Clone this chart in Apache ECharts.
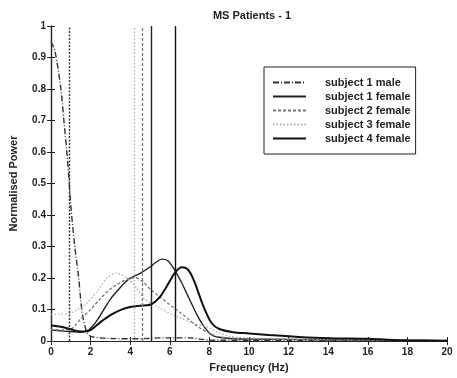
<!DOCTYPE html>
<html><head><meta charset="utf-8">
<script src="https://cdn.jsdelivr.net/npm/echarts@6/dist/echarts.min.js"></script>
<style>html,body{margin:0;padding:0;background:#fff}#c{width:457px;height:378px}</style>
</head><body><div id="c"></div>
<script>
const xTicks = [0,2,4,6,8,10,12,14,16,18,20];
const s1mFreq  = [0,0.2,0.5,0.65,0.8,0.9,1.0,1.2,1.4,1.5,1.6,1.8,2.0,2.5,3,4,5,5.5,6,7,7.5,8,10,12,14,16,18,20];
const s1mPower = [0.95,0.92,0.8,0.7,0.6,0.52,0.43,0.3,0.2,0.13,0.08,0.03,0.015,0.01,0.008,0.007,0.008,0.01,0.01,0.01,0.006,0.003,0.002,0.002,0.001,0.001,0.001,0];
const s1fFreq  = [0,0.5,1,1.5,1.9,2.3,3,3.5,3.9,4.5,5,5.3,5.6,5.9,6.2,6.6,6.9,7.4,7.8,8.2,9,10,12,14,16,18,20];
const s1fPower = [0.035,0.032,0.03,0.028,0.035,0.063,0.133,0.17,0.195,0.215,0.235,0.25,0.26,0.255,0.23,0.185,0.145,0.08,0.04,0.016,0.008,0.006,0.005,0.004,0.003,0.002,0.001];
const s2fFreq  = [0,0.5,1,1.5,2,2.5,3,3.5,4,4.3,4.7,5,5.5,6,6.5,7,7.5,8,8.4,9,10,12,14,16,18,20];
const s2fPower = [0.035,0.035,0.038,0.07,0.1,0.135,0.165,0.185,0.2,0.2,0.185,0.165,0.14,0.115,0.092,0.066,0.042,0.025,0.015,0.01,0.007,0.005,0.004,0.003,0.002,0.001];
const s3fFreq  = [0,0.5,0.9,1.2,1.7,2.3,2.8,3.3,3.7,4.2,4.7,5.4,6.2,7.2,7.9,8.4,9,10,12,14,16,18,20];
const s3fPower = [0.085,0.085,0.087,0.095,0.113,0.155,0.198,0.215,0.205,0.178,0.135,0.108,0.082,0.055,0.044,0.028,0.015,0.01,0.007,0.005,0.004,0.003,0.002];
const s4fFreq  = [0,0.5,1,1.5,2,2.5,3,3.5,4,4.5,5,5.5,6,6.3,6.6,6.9,7.2,7.7,8.1,8.5,9.2,10,11,12.5,14,16,17,18,20];
const s4fPower = [0.049,0.045,0.037,0.03,0.035,0.06,0.082,0.098,0.108,0.112,0.115,0.14,0.19,0.22,0.234,0.228,0.195,0.11,0.058,0.038,0.028,0.024,0.019,0.013,0.009,0.007,0.004,0.002,0.001];
const seriesNames = ['subject 1 male','subject 1 female','subject 2 female','subject 3 female','subject 4 female'];
const markFreq = [0.9, 5.07, 4.6, 4.2, 6.3];

const freqs = [s1mFreq, s1fFreq, s2fFreq, s3fFreq, s4fFreq];
const powers = [s1mPower, s1fPower, s2fPower, s3fPower, s4fPower];
const styles = [
  {color:'#333', width:1.4, type:[6,2,1,2]},
  {color:'#222', width:1.4, type:'solid'},
  {color:'#777', width:1.3, type:[3,2]},
  {color:'#aaa', width:1.2, type:[1.5,2]},
  {color:'#111', width:2, type:'solid'}
];
const font = 'Liberation Sans, Arial, sans-serif';
const series = seriesNames.map((n,i)=>({
  name:n, type:'line', showSymbol:false, symbol:'none', smooth:0.3,
  data: freqs[i].map((f,j)=>[f, powers[i][j]]),
  lineStyle: styles[i], itemStyle:{color:styles[i].color},
  markLine:{silent:true, symbol:'none', label:{show:false},
    lineStyle:{color:styles[i].color, width:Math.min(styles[i].width,1.4), type: i===0 ? [2,1.5] : styles[i].type},
    data:[{xAxis: markFreq[i]}]}
}));
const chart = echarts.init(document.getElementById('c'));
chart.setOption({
  animation:false,
  title:{text:'MS Patients - 1', left:247, textAlign:'center', top:5,
    textStyle:{fontFamily:font, fontSize:11, fontWeight:'bold', color:'#222'}},
  grid:{left:50, right:10, top:26, bottom:36},
  legend:{orient:'vertical', left:264, top:67, data:seriesNames,
    backgroundColor:'#fff', borderColor:'#222', borderWidth:1,
    padding:[10,5,10,8], itemWidth:33, itemHeight:10, itemGap:3,
    itemStyle:{opacity:0},
    textStyle:{fontFamily:font, fontSize:11, fontWeight:'bold', color:'#222', padding:[0,0,0,14]}},
  xAxis:[{type:'value', min:0, max:20, interval:2, name:'Frequency (Hz)', nameLocation:'middle', nameGap:21,
    nameTextStyle:{fontFamily:font, fontSize:11, fontWeight:'bold', color:'#222'},
    axisLine:{lineStyle:{color:'#222', width:1.2}}, axisTick:{inside:true, length:4, lineStyle:{color:'#222'}},
    axisLabel:{fontFamily:font, fontSize:10, fontWeight:'bold', color:'#222', margin:6},
    splitLine:{show:false}},
   {type:'value', min:0, max:20, interval:2, position:'top',
    axisLine:{lineStyle:{color:'#222', width:1.2}}, axisTick:{inside:true, length:4, lineStyle:{color:'#222'}},
    axisLabel:{show:false}, splitLine:{show:false}}],
  yAxis:[{type:'value', min:0, max:1, interval:0.1, name:'Normalised Power', nameLocation:'middle', nameGap:32,
    nameTextStyle:{fontFamily:font, fontSize:11, fontWeight:'bold', color:'#222'},
    axisLine:{lineStyle:{color:'#222', width:1.2}}, axisTick:{inside:true, length:4, lineStyle:{color:'#222'}},
    axisLabel:{fontFamily:font, fontSize:10, fontWeight:'bold', color:'#222', margin:5},
    splitLine:{show:false}},
   {type:'value', min:0, max:1, interval:0.1, position:'right',
    axisLine:{lineStyle:{color:'#222', width:1.2}}, axisTick:{inside:true, length:4, lineStyle:{color:'#222'}},
    axisLabel:{show:false}, splitLine:{show:false}}],
  series: series
});
</script></body></html>
